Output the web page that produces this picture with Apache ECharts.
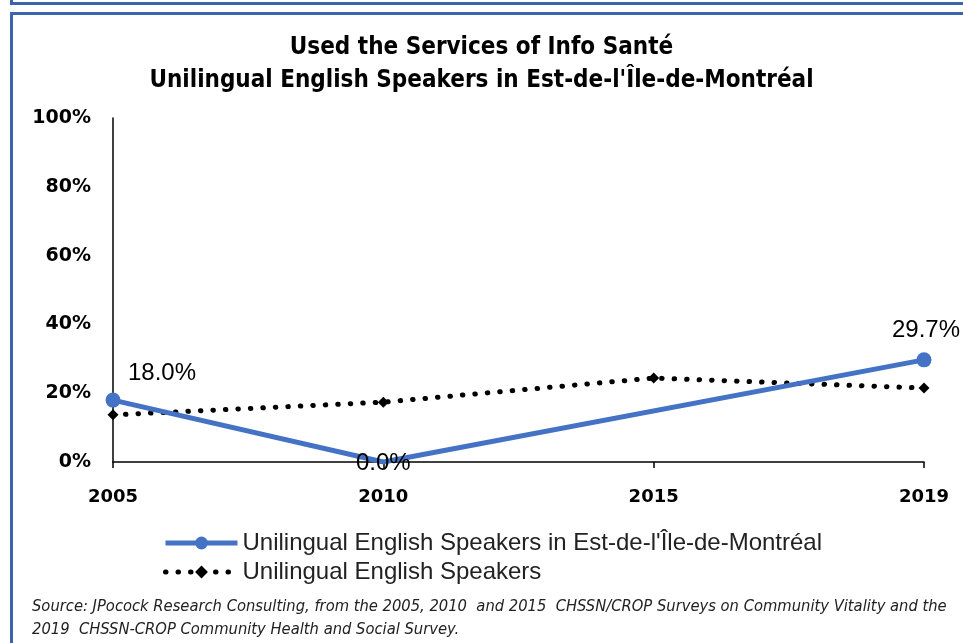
<!DOCTYPE html>
<html>
<head>
<meta charset="utf-8">
<script src="https://cdn.jsdelivr.net/npm/echarts@6/dist/echarts.min.js"></script>
<style>
  html, body { margin: 0; padding: 0; background: #fff; }
  #chart { width: 963px; height: 643px; }
</style>
</head>
<body>
<div id="chart"></div>
<script>
  // categories and values
  const years = ['2005', '2010', '2015', '2019']
  const estMontreal = [18.0, 0.0, null, 29.7]
  const unilingual = [13.7, 17.4, 24.4, 21.5]
  const yTicks = [0, 20, 40, 60, 80, 100]

  const narrow = '"Liberation Sans Narrow", "DejaVu Sans Condensed", sans-serif'
  const sans = '"Liberation Sans", Arial, sans-serif'
  const axisFont = '"DejaVu Sans", sans-serif'
  const blue = '#4472c4'
  const nameEst = 'Unilingual English Speakers in Est-de-l\'Île-de-Montréal'
  const nameAll = 'Unilingual English Speakers'

  // per-point label placement for the blue series
  const labelPos = ['top', 'inside', 'top', 'top']
  const labelOffset = [[49, -2], [0, 1], [0, 0], [2, -5]]
  const estData = estMontreal.map((v, i) => ({
    value: v,
    symbolSize: i === 1 ? 0 : 15,
    label: { position: labelPos[i], offset: labelOffset[i] }
  }))

  let myChart = echarts.init(document.getElementById('chart'))
  myChart.setOption({
    animation: false,
    title: {
      text: 'Used the Services of Info Santé\n' + nameEst,
      left: 'center',
      top: 26,
      textStyle: {
        fontSize: 24,
        fontWeight: 'bold',
        color: '#000',
        lineHeight: 33,
        fontFamily: narrow
      }
    },
    legend: {
      orient: 'vertical',
      left: 158,
      top: 526,
      itemWidth: 72,
      itemHeight: 16,
      itemGap: 5,
      textStyle: { fontSize: 24, color: '#222', fontFamily: sans },
      data: [
        { name: nameEst, lineStyle: { width: 5, color: blue } },
        { name: nameAll, lineStyle: { width: 5, color: '#000', type: [0.5, 12], cap: 'round' } }
      ]
    },
    grid: {
      left: 113,
      right: 39,
      top: 118,
      bottom: 181
    },
    xAxis: {
      type: 'category',
      boundaryGap: false,
      data: years,
      axisLine: { lineStyle: { color: '#000', width: 1.5 } },
      axisTick: { show: true, length: 6, alignWithLabel: true, lineStyle: { color: '#000', width: 1.5 } },
      axisLabel: { fontSize: 18, fontWeight: 'bold', color: '#000', margin: 26, fontFamily: axisFont }
    },
    yAxis: {
      type: 'value',
      min: 0,
      max: 100,
      interval: 20,
      splitLine: { show: false },
      axisLine: { show: true, lineStyle: { color: '#000', width: 1.5 } },
      axisTick: { show: false },
      axisLabel: {
        fontSize: 19,
        fontWeight: 'bold',
        color: '#000',
        margin: 22,
        fontFamily: axisFont,
        formatter: v => yTicks.includes(v) ? v + '%' : ''
      }
    },
    series: [
      {
        name: nameEst,
        type: 'line',
        data: estData,
        connectNulls: true,
        symbol: 'circle',
        symbolSize: 15,
        z: 3,
        itemStyle: { color: blue },
        lineStyle: { color: blue, width: 5 },
        label: {
          show: true,
          fontSize: 24,
          color: '#000',
          fontFamily: sans,
          formatter: p => p.value.toFixed(1) + '%'
        }
      },
      {
        name: nameAll,
        type: 'line',
        data: unilingual,
        symbol: 'diamond',
        symbolSize: 11,
        z: 2,
        itemStyle: { color: '#000' },
        lineStyle: { color: '#000', width: 5, type: [0.5, 12], cap: 'round' }
      }
    ],
    graphic: [
      { type: 'rect', shape: { x: 10, y: 2, width: 953, height: 3 }, style: { fill: '#3b64ad' } },
      { type: 'rect', shape: { x: 10, y: 0, width: 3, height: 4 }, style: { fill: '#3b64ad' } },
      { type: 'rect', shape: { x: 10, y: 12, width: 953, height: 3 }, style: { fill: '#3b64ad' } },
      { type: 'rect', shape: { x: 10, y: 12, width: 3, height: 631 }, style: { fill: '#3b64ad' } },
      {
        type: 'text',
        left: 32,
        top: 595,
        style: {
          text: 'Source: JPocock Research Consulting, from the 2005, 2010  and 2015  CHSSN/CROP Surveys on Community Vitality and the\n2019  CHSSN-CROP Community Health and Social Survey.',
          font: 'italic 16.4px ' + narrow,
          fill: '#222',
          lineHeight: 23
        }
      }
    ]
  })
</script>
</body>
</html>
